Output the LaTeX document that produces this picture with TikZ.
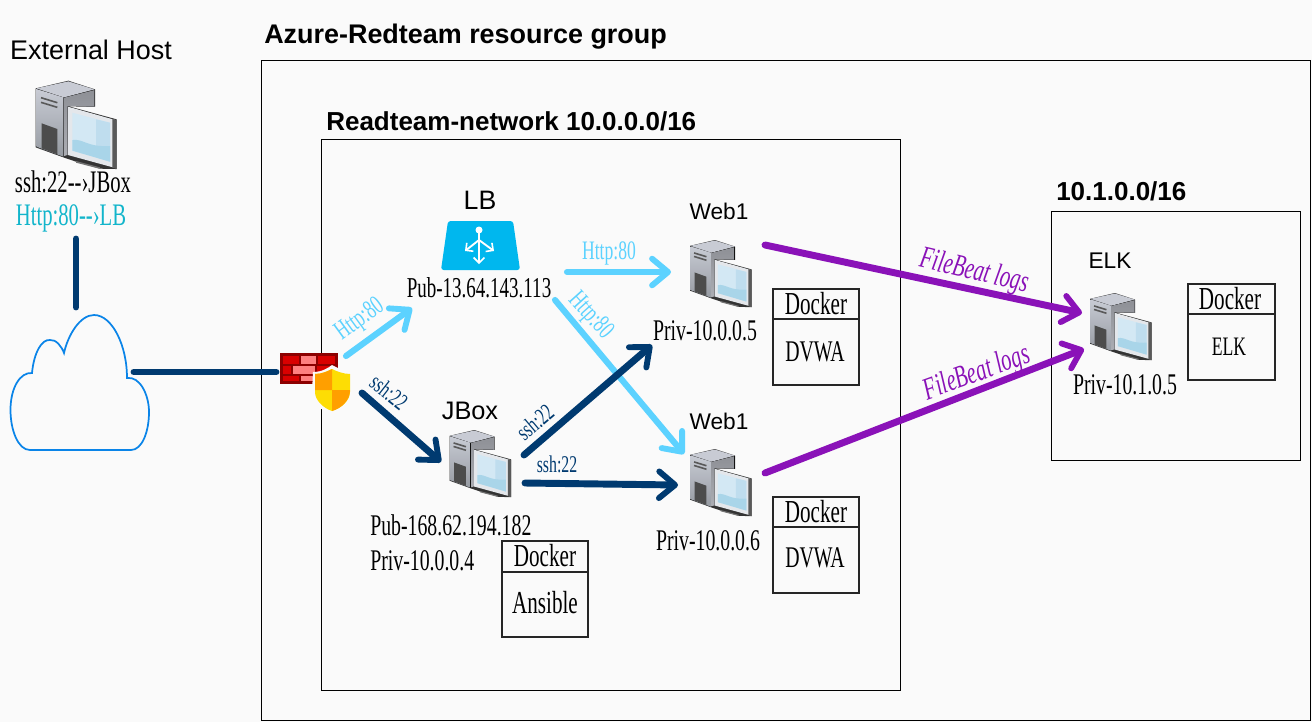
\documentclass[tikz,border=0pt]{standalone}
\usepackage{fontspec}
\usetikzlibrary{arrows.meta}
\setmainfont{Liberation Sans}
\newfontfamily\cond[FakeStretch=0.66]{Liberation Serif}
\definecolor{bgc}{HTML}{FAFAFA}
\definecolor{navy}{HTML}{003A70}
\definecolor{sky}{HTML}{5CD2FF}
\definecolor{purp}{HTML}{8A12B8}
\definecolor{cyant}{HTML}{12B5CB}
\definecolor{cloudc}{HTML}{0A84E8}
\definecolor{lbc}{HTML}{00B7EE}
\definecolor{scra}{HTML}{D3E8F4}
\definecolor{scrb}{HTML}{A9D5E9}
\definecolor{scrc}{HTML}{BFDDEE}
\definecolor{tfa}{HTML}{C8CBD4}
\definecolor{tfb}{HTML}{959AA1}
\definecolor{bez}{HTML}{E4E7EB}
\definecolor{rfa}{HTML}{8E9096}
\definecolor{rfb}{HTML}{ABADB3}
\tikzset{
 x=0.75pt,y=-0.75pt,
 box/.style={draw=black,line width=0.75pt},
 dock/.style={draw=black!85,line width=1.3pt},
 title/.style={font=\fontsize{20.2}{22}\selectfont\bfseries,anchor=west,inner sep=0pt},
 subtitle/.style={title,font=\fontsize{19.5}{22}\selectfont\bfseries},
 lab/.style={font=\fontsize{18}{20}\selectfont,inner sep=0pt},
 ctext/.style={font=\cond\fontsize{22.5}{24}\selectfont,inner sep=0pt},
 dtext/.style={font=\cond\fontsize{24}{26}\selectfont,inner sep=0pt},
 ltext/.style={font=\cond\fontsize{20}{22}\selectfont,inner sep=0pt},
 stext/.style={font=\cond\fontsize{18}{20}\selectfont,inner sep=0pt},
 flog/.style={font=\cond\itshape\fontsize{23.5}{25}\selectfont,inner sep=0pt,text=purp},
 conn/.style={line width=5.2pt,line cap=round,line join=round},
 arr/.style={conn,-{Straight Barb[round,length=12pt,width=20pt,line width=4.4pt]}},
 skyarr/.style={arr,line width=4.6pt,sky},
 pics/srv/.style={code={
  \begin{scope}[scale=.3333,shift={(-107,-62)}]
   \fill[black!80] (203,138)--(350,178)--(350,327)--(300,326)--(228,305)--(190,292)--(107,262)--(107,85)--(205,62)--(285,88)--(285,140)--cycle;
   \fill[top color=tfa,bottom color=tfb] (109,87)--(190,112)--(190,290)--(109,260)--cycle;
   \fill[tfa] (109,85)--(205,64)--(283,88)--(192,112)--cycle;
   \fill[top color=rfa,bottom color=rfb] (192,113)--(283,90)--(283,140)--(203,138)--(203,285)--(192,288)--cycle;
   \fill[black!70] (125,190)--(172,207)--(172,283)--(125,265)--cycle;
   \draw[black!65,line width=1.2pt] (123,113)--(172,128) (123,127)--(172,142);
   \fill[bez] (204,140)--(346,180)--(346,324)--(204,285)--cycle;
   \fill[black!65] (337,177)--(350,180)--(350,327)--(337,322)--cycle;
   \fill[black!55] (228,303)--(300,322)--(298,326)--(228,308)--cycle;
   \fill[scra] (217,158)--(330,188)--(330,305)--(217,272)--cycle;
   \fill[scrc] (288,178)--(330,188)--(330,305)--(288,292)--cycle;
   \fill[scrb] (217,240) .. controls (250,235) and (260,262) .. (330,258) -- (330,305)--(217,272)--cycle;
  \end{scope}
 }},
}
\begin{document}
\begin{tikzpicture}
\useasboundingbox (0,0) rectangle (1312,722);
\fill[bgc] (0,0) rectangle (1312,722);
% containers
\draw[box] (261,60) rectangle (1310,720);
\draw[box] (321,139) rectangle (900,690);
\draw[box] (1051,211) rectangle (1300,460);
\node[title] (t1) at (264,37) {Azure-Redteam resource group};
\node[subtitle] (t2) at (326,121) {Readteam-network 10.0.0.0/16};
\node[subtitle] (t3) at (1056,191) {10.1.0.0/16};
% external
\node[lab,font=\fontsize{20.2}{22}\selectfont] (exth) at (91,50) {External Host};
\pic (ext) at (35.7,80.7) {srv};
\node[ctext,font=\cond\fontsize{23.5}{25}\selectfont] (e1) at (73,182) {ssh:22--›JBox};
\node[ctext,font=\cond\fontsize{23.5}{25}\selectfont,text=cyant] (e2) at (71,218) {Http:80--›LB};
% cloud
\coordinate (cloudtop) at (76,307);
\coordinate (exta) at (76,239);
\coordinate (cloudr) at (134,372);
\coordinate (fwl) at (276,372);
\draw[cloudc,line width=1.3pt,fill=bgc] (32,373) .. controls (34,352) and (42,339) .. (50,340) .. controls (56,339) and (62,347) .. (64,353) .. controls (68,335) and (80,315) .. (94,315) .. controls (112,315) and (127,345) .. (127,378) .. controls (140,376) and (149,395) .. (149,412) .. controls (149,432) and (142,450) .. (131,450) -- (30,450) .. controls (18,450) and (10.5,430) .. (10.5,410) .. controls (10.5,388) and (20,372) .. (32,373) -- cycle;
\draw[conn,navy] (exta) -- (cloudtop);
\draw[conn,navy] (cloudr) -- (fwl);
% firewall
\fill[red!55!black] (280,353) rectangle (338,384);
\foreach \a/\b/\c/\d/\e in {283/356/299/364/red!85!black,301/356/316/364/red!50!white,318/356/335/364/red!85!black,283/366/291/374/red!85!black,293/366/315/374/red!50!white,317/366/335/374/red!85!black,283/376/299/381/red!85!black,301/376/313/381/red!50!white}{\fill[\e] (\a,\b) rectangle (\c,\d);}
\fill[bgc] (313,372) .. controls (322,372) and (328,368) .. (332,365) .. controls (338,368) and (344,372) .. (353,372) -- (353,392) .. controls (353,402) and (342,412) .. (332,414) .. controls (322,412) and (312,402) .. (312,392) -- cycle;
\fill[yellow!80!orange] (315,374) .. controls (322,374) and (328,371) .. (332,369) .. controls (336,371) and (343,374) .. (350,374) -- (350,392) .. controls (350,400) and (342,408) .. (332,411) .. controls (323,408) and (315,400) .. (315,392) -- cycle;
\fill[orange!75!yellow] (332,369) -- (332,390) -- (315,390) -- (315,374) .. controls (322,374) and (328,371) .. (332,369) -- cycle;
\fill[orange!75!yellow] (332,390) -- (350,390) .. controls (350,400) and (342,408) .. (332,411) -- cycle;
% LB
\fill[lbc,rounded corners=2pt] (448,221) -- (513,221) -- (520,270) -- (441,270) -- cycle;
\node[lab,font=\fontsize{20}{22}\selectfont] (lbl) at (480,200) {LB};
\coordinate (lbc0) at (479,230);
\coordinate (lbc1) at (479,264);
\coordinate (lbc2) at (465,251);
\coordinate (lbc3) at (494,251);
\fill[white] (lbc0) circle (3.5);
\draw[white,line width=1.4pt,-{Straight Barb[length=4pt,width=8pt,line width=1.2pt]}] (lbc0) -- (lbc1);
\draw[white,line width=1.4pt,-{Straight Barb[length=4pt,width=8pt,line width=1.2pt]}] (479,240) -- (lbc2);
\draw[white,line width=1.4pt,-{Straight Barb[length=4pt,width=8pt,line width=1.2pt]}] (479,240) -- (lbc3);
\node[ctext,font=\cond\fontsize{21.6}{24}\selectfont] (lbi) at (479,288) {Pub-13.64.143.113};
% servers
\pic (jbox) [scale=.76] at (449.5,430) {srv};
\pic (web1) [scale=.76] at (690,240) {srv};
\pic (web2) [scale=.76] at (690,449) {srv};
\pic (elk) [scale=.76] at (1090,293) {srv};
\node[lab,font=\fontsize{19}{20}\selectfont] (jl) at (470,411) {JBox};
\node[lab,font=\fontsize{17}{20}\selectfont] (w1) at (719,211) {Web1};
\node[lab,font=\fontsize{17}{20}\selectfont] (w2) at (719,421) {Web1};
\node[lab,font=\fontsize{17}{20}\selectfont] (el) at (1110,261) {ELK};
\node[ctext] (p1) at (705,331) {Priv-10.0.0.5};
\node[ctext] (p2) at (708,541) {Priv-10.0.0.6};
\node[ctext,anchor=west] (p3) at (370,525) {Pub-168.62.194.182};
\node[ctext,anchor=west] (p4) at (370,561) {Priv-10.0.0.4};
\node[ctext] (p5) at (1125,385) {Priv-10.1.0.5};
% docker boxes
\draw[dock] (773,289) rectangle (859,385) (773,319) -- (859,319);
\draw[dock] (773,497) rectangle (859,593) (773,527) -- (859,527);
\draw[dock] (502,541) rectangle (588,637) (502,572) -- (588,572);
\draw[dock] (1188,284) rectangle (1275,380) (1188,314) -- (1275,314);
\node[dtext] (d1) at (816,304) {Docker};
\node[dtext] (d2) at (816,512) {Docker};
\node[dtext] (d3) at (545,556) {Docker};
\node[dtext] (d4) at (1230,299) {Docker};
\node[ctext] (a1) at (815,352) {DVWA};
\node[ctext] (a2) at (815,558) {DVWA};
\node[dtext] (a3) at (545,603) {Ansible};
\node[ctext,font=\cond\fontsize{20}{22}\selectfont] (a4) at (1229,347) {ELK};
% connectors
\coordinate (fw1) at (346,356); \coordinate (lbin) at (412,308);
\coordinate (fw2) at (362,393); \coordinate (jin) at (441,462);
\coordinate (lbo1) at (567,272); \coordinate (w1in) at (671,272);
\coordinate (lbo2) at (555,300); \coordinate (w2ina) at (684,454);
\coordinate (jo1) at (524,455); \coordinate (w1inb) at (652,345);
\coordinate (jo2) at (525,483); \coordinate (w2inb) at (678,485);
\coordinate (w1o) at (765,245); \coordinate (ek1) at (1082,313);
\coordinate (w2o) at (765,473); \coordinate (ek2) at (1084,349);
\draw[skyarr] (fw1) -- (lbin);
\draw[arr,navy] (fw2) -- (jin);
\draw[skyarr] (lbo1) -- (w1in);
\draw[skyarr] (lbo2) -- (w2ina);
\draw[arr,navy] (jo1) -- (w1inb);
\draw[arr,navy] (jo2) -- (w2inb);
\draw[arr,purp] (w1o) -- (ek1);
\draw[arr,purp] (w2o) -- (ek2);
% connector labels
\node[ltext,text=sky,rotate=36] (l1) at (360,320) {Http:80};
\node[stext,text=navy,rotate=-38] (l2) at (389,392) {ssh:22};
\node[ltext,text=sky] (l3) at (609,253) {Http:80};
\node[ltext,text=sky,rotate=-48] (l4) at (590,316) {Http:80};
\node[stext,text=navy,rotate=40] (l5) at (535,422) {ssh:22};
\node[stext,text=navy] (l6) at (557,464) {ssh:22};
\node[flog,rotate=-13] (l7) at (974,272) {FileBeat logs};
\node[flog,rotate=20] (l8) at (977,374) {FileBeat logs};
\end{tikzpicture}
\end{document}
